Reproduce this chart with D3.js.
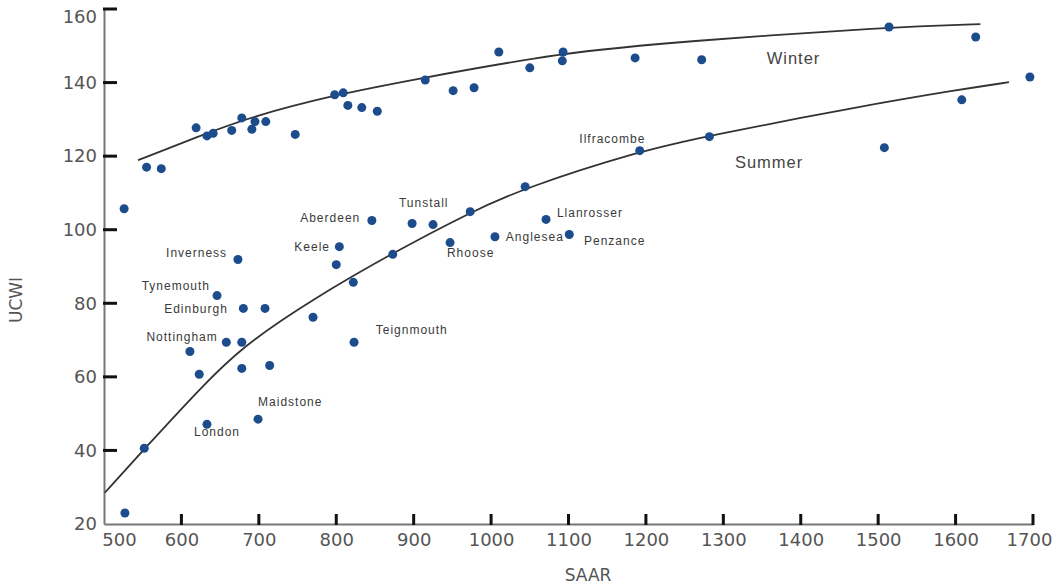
<!DOCTYPE html>
<html>
<head>
<meta charset="utf-8">
<script src="https://cdn.jsdelivr.net/npm/d3@7"></script>
<style>
  body { margin: 0; background: #fff; }
  .tick text { font-family: "DejaVu Sans", sans-serif; font-size: 18px; fill: #555; }
  .lbl { font-family: "Liberation Sans", Arial, sans-serif; font-size: 12px; fill: #3a3a3a; letter-spacing: 1px; }
  .season { font-family: "Liberation Sans", Arial, sans-serif; font-size: 16.5px; fill: #444; letter-spacing: 1px; }
  .title { font-family: "DejaVu Sans", sans-serif; font-size: 17px; fill: #555; }
</style>
</head>
<body>
<svg id="chart" width="1056" height="587"></svg>
<script>
// winter stations
var winterSaar = [526, 555, 574, 619, 633, 641, 665, 678, 691, 695, 709, 747, 798, 809, 815, 833, 853,
  915, 951, 978, 1010, 1050, 1093, 1092, 1186, 1272, 1514, 1626];
var winterUcwi = [105.7, 117, 116.6, 127.7, 125.5, 126.2, 127, 130.4, 127.3, 129.4, 129.4, 125.9, 136.7, 137.2, 133.8, 133.2, 132.2,
  140.7, 137.8, 138.6, 148.3, 144, 148.3, 145.9, 146.7, 146.2, 155.1, 152.4];

// summer stations
var summerSaar = [1696, 1608, 1508, 1282, 1192, 1044, 973, 898, 925, 846, 804, 800, 822, 673, 646, 873, 947,
  1005, 1071, 1101, 680, 708, 770, 658, 678, 611, 623, 678, 714, 823, 633, 699, 552, 527];
var summerUcwi = [141.5, 135.3, 122.3, 125.3, 121.5, 111.7, 104.9, 101.7, 101.4, 102.5, 95.4, 90.5, 85.7, 91.9, 82.1, 93.3, 96.5,
  98.1, 102.8, 98.7, 78.6, 78.6, 76.2, 69.4, 69.4, 66.9, 60.7, 62.3, 63.1, 69.4, 47.1, 48.5, 40.6, 23];

// fitted curves
var winterFitSaar = [544, 620, 692, 798, 882, 1093, 1257, 1514, 1632];
var winterFitUcwi = [118.9, 125.2, 130.9, 136.6, 140.1, 148.3, 151.3, 155.1, 155.9];
var summerFitSaar = [501, 553, 624, 678, 770, 873, 973, 1041, 1192, 1282, 1473, 1602, 1669];
var summerFitUcwi = [28.5, 40.6, 56.8, 68.2, 81.2, 93.7, 104.7, 111.2, 121.4, 125.6, 133.4, 138, 140.1];

// station names
var labelNames = ["Aberdeen", "Keele", "Inverness", "Tynemouth", "Edinburgh", "Nottingham", "London", "Maidstone",
  "Teignmouth", "Tunstall", "Rhoose", "Anglesea", "Llanrosser", "Penzance", "Ilfracombe"];
var labelSaar = [831, 792, 659, 637, 660, 647, 646, 699, 851, 881, 943, 1019, 1085, 1120, 1114];
var labelUcwi = [103.2, 95.3, 93.7, 84.7, 78.4, 70.8, 45, 53.2, 72.7, 107.3, 93.7, 98, 104.5, 96.9, 124.6];
var labelAnchor = ["end", "end", "end", "end", "end", "end", "middle", "start",
  "start", "start", "start", "start", "start", "start", "start"];

var seasonNames = ["Winter", "Summer"];
var seasonSaar = [1356, 1315];
var seasonUcwi = [146.7, 118.4];

var xTicks = [500, 600, 700, 800, 900, 1000, 1100, 1200, 1300, 1400, 1500, 1600, 1700];
var yTicks = [20, 40, 60, 80, 100, 120, 140, 160];

var svg = d3.select("#chart");

var x = d3.scaleLinear().domain([500, 1700]).range([104, 1033]);
var y = d3.scaleLinear().domain([20, 160]).range([524, 9]);

// axes (labels + domain line)
var xAxis = svg.append("g")
  .attr("transform", "translate(0," + y(20) + ")")
  .call(d3.axisBottom(x).tickValues(xTicks).tickFormat(d3.format("d"))
    .tickSize(0).tickPadding(9));
var yAxis = svg.append("g")
  .attr("transform", "translate(" + x(500) + ",0)")
  .call(d3.axisLeft(y).tickValues(yTicks).tickFormat(d3.format("d"))
    .tickSize(0).tickPadding(7));

[xAxis, yAxis].forEach(function(a) {
  a.select(".domain").attr("stroke", "#777").attr("stroke-width", 2);
});
xAxis.selectAll(".tick text").filter(function(d) { return d === 500; }).attr("dx", 15);
xAxis.selectAll(".tick text").filter(function(d) { return d === 1700; }).attr("dx", -4);
yAxis.selectAll(".tick text").filter(function(d) { return d === 160; }).attr("dy", "0.75em");

// inward tick marks
svg.append("g")
  .selectAll("line")
  .data(xTicks.slice(1))
  .enter()
  .append("line")
    .attr("x1", function(d) { return x(d); })
    .attr("x2", function(d) { return x(d); })
    .attr("y1", y(20) + 1)
    .attr("y2", y(20) - 10)
    .attr("stroke", "#111")
    .attr("stroke-width", 3);
svg.append("g")
  .selectAll("line")
  .data(yTicks.slice(1))
  .enter()
  .append("line")
    .attr("x1", x(500) - 1)
    .attr("x2", x(500) + 13)
    .attr("y1", function(d) { return y(d); })
    .attr("y2", function(d) { return y(d); })
    .attr("stroke", "#111")
    .attr("stroke-width", 3);

// axis titles
svg.append("text").attr("class", "title")
  .attr("x", 588).attr("y", 581)
  .attr("text-anchor", "middle")
  .text("SAAR");
svg.append("text").attr("class", "title")
  .attr("transform", "translate(22,300) rotate(-90)")
  .attr("text-anchor", "middle")
  .text("UCWI");

// fitted curves
var line = d3.line()
  .x(function(d) { return x(d[0]); })
  .y(function(d) { return y(d[1]); })
  .curve(d3.curveBasis);

svg.append("path")
  .datum(d3.zip(winterFitSaar, winterFitUcwi))
  .attr("d", line)
  .attr("fill", "none").attr("stroke", "#333").attr("stroke-width", 1.8);
svg.append("path")
  .datum(d3.zip(summerFitSaar, summerFitUcwi))
  .attr("d", line)
  .attr("fill", "none").attr("stroke", "#333").attr("stroke-width", 1.8);

// points
var pts = d3.zip(winterSaar, winterUcwi).concat(d3.zip(summerSaar, summerUcwi));
svg.append("g")
  .selectAll("circle")
  .data(pts)
  .enter()
  .append("circle")
    .attr("cx", function(d) { return x(d[0]); })
    .attr("cy", function(d) { return y(d[1]); })
    .attr("r", 4.5)
    .attr("fill", "#1c4c8c");

// station labels
svg.append("g")
  .selectAll("text")
  .data(labelNames)
  .enter()
  .append("text")
    .attr("class", "lbl")
    .attr("x", function(d, i) { return x(labelSaar[i]); })
    .attr("y", function(d, i) { return y(labelUcwi[i]); })
    .attr("dy", "0.35em")
    .attr("text-anchor", function(d, i) { return labelAnchor[i]; })
    .text(function(d) { return d; });

svg.append("g")
  .selectAll("text")
  .data(seasonNames)
  .enter()
  .append("text")
    .attr("class", "season")
    .attr("x", function(d, i) { return x(seasonSaar[i]); })
    .attr("y", function(d, i) { return y(seasonUcwi[i]); })
    .attr("dy", "0.35em")
    .text(function(d) { return d; });
</script>
</body>
</html>
